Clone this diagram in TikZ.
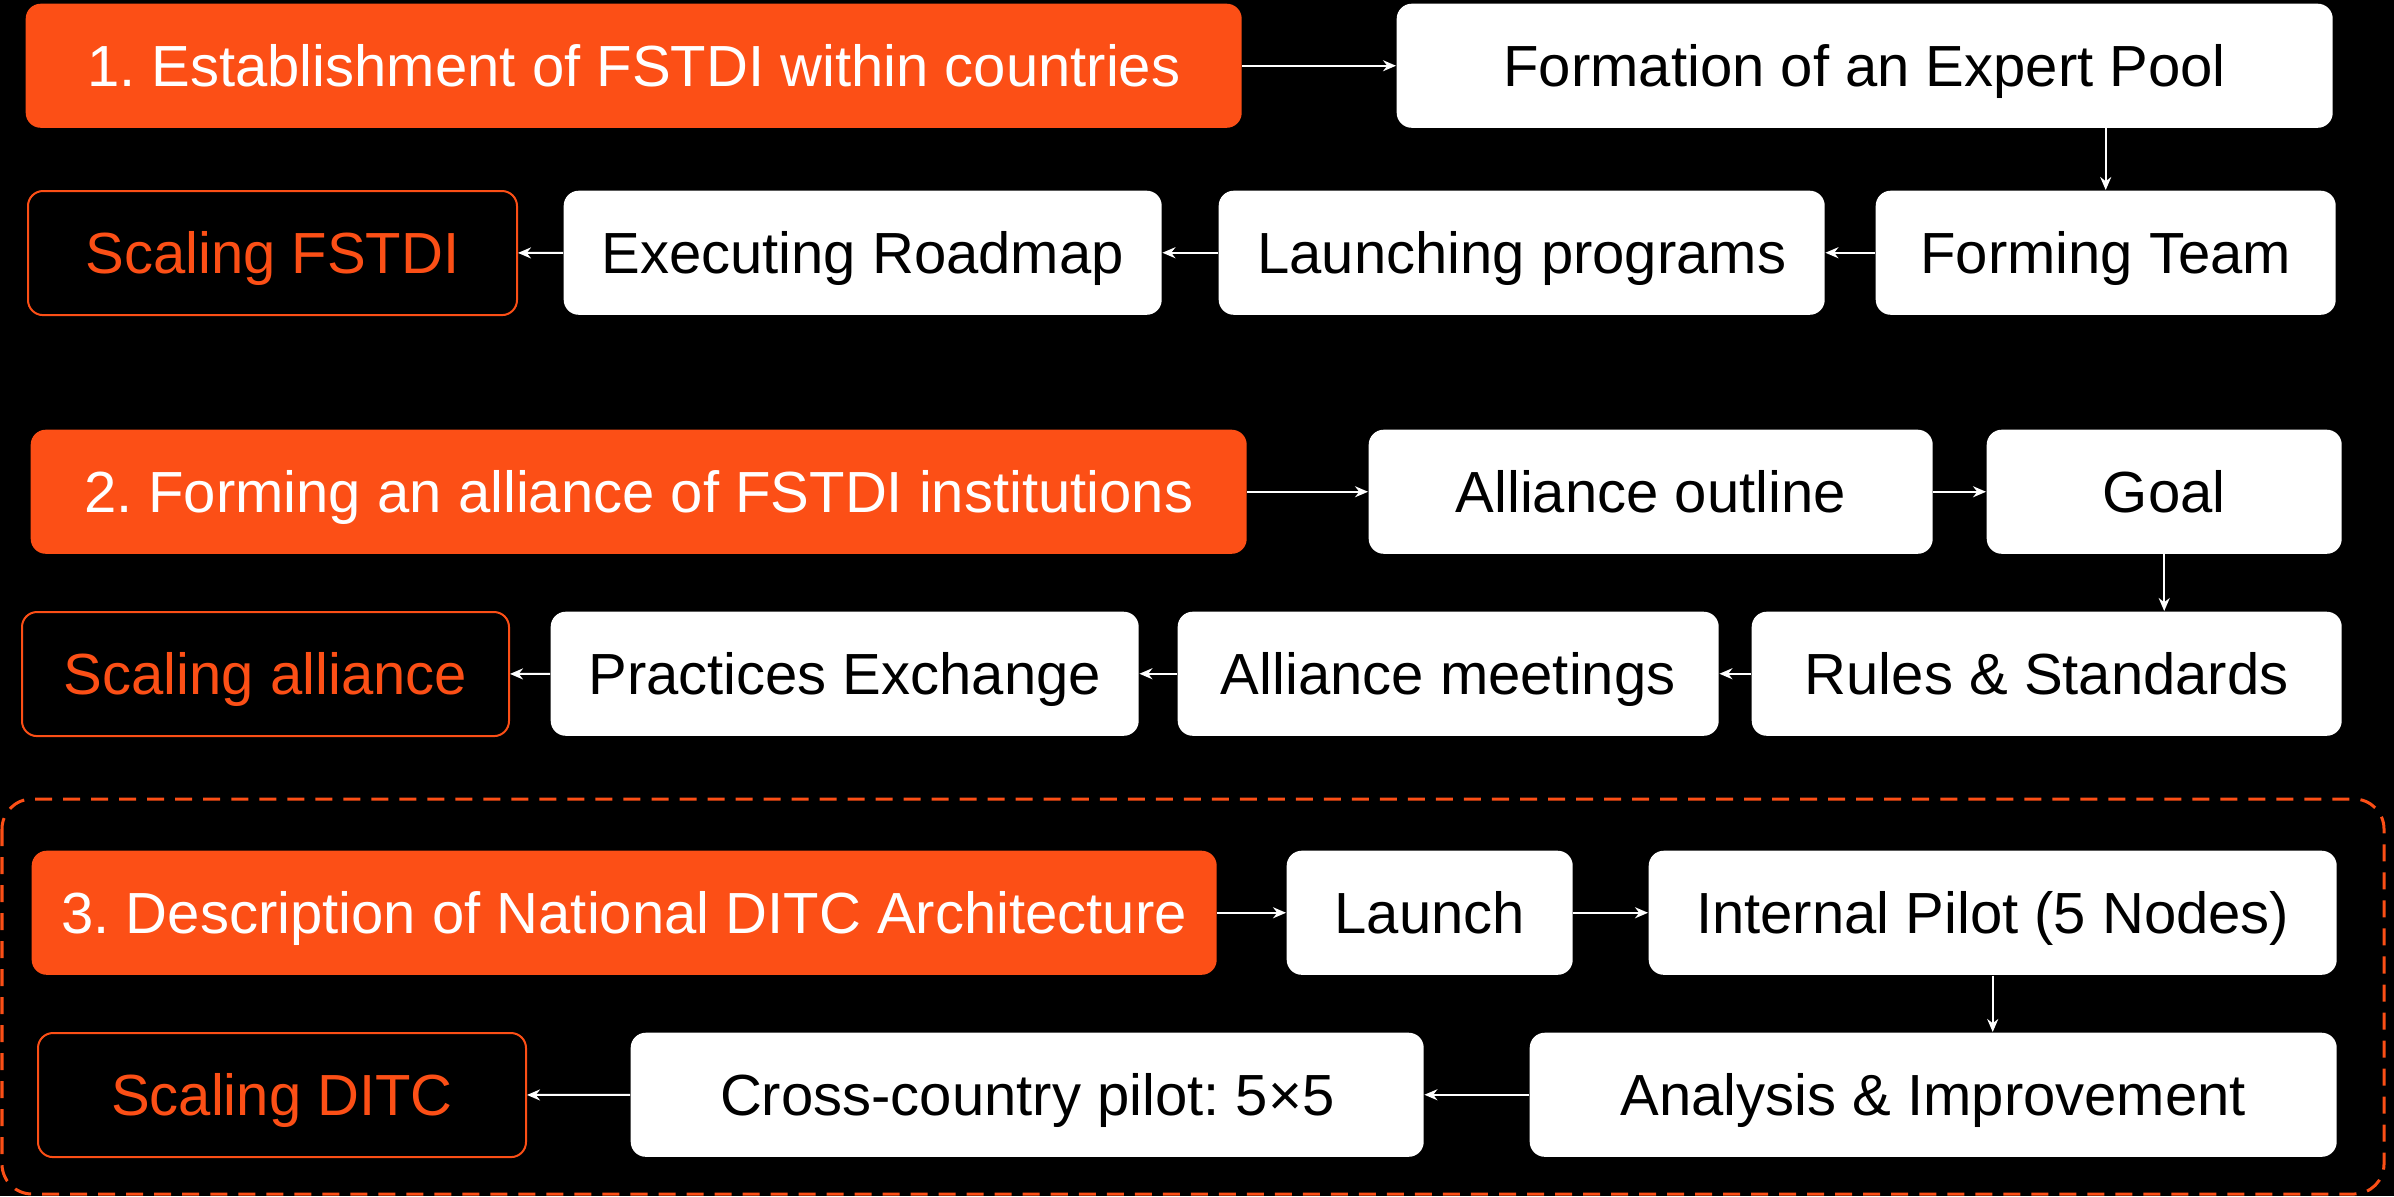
\documentclass[tikz,border=0pt]{standalone}
\usepackage{fontspec}
\setmainfont{Liberation Sans}
\usepackage{xcolor}
\usetikzlibrary{arrows.meta}
\definecolor{fstdiOrange}{RGB}{252,79,22}
\newcommand{\boxTextSize}{\fontsize{16.5}{19.8}\selectfont\frenchspacing}
\newcommand{\pictureWidth}{2394}
\newcommand{\pictureHeight}{1196}
\newcommand{\headBoxes}{head1/25/3/1216/{1. Establishment of FSTDI within countries}, head2/30/429/1216/{2. Forming an alliance of FSTDI institutions}, head3/31/850/1185/{3. Description of National DITC Architecture}} % name/left/top/width/text
\newcommand{\stepBoxes}{pool/1396/3/936/{Formation of an Expert Pool}, roadmap/563/190/598/{Executing Roadmap}, programs/1218/190/606/{Launching programs}, team/1875/190/460/{Forming Team}, outline/1368/429/564/{Alliance outline}, goal/1986/429/355/{Goal}, exchange/550/611/588/{Practices Exchange}, meetings/1177/611/541/{Alliance meetings}, rules/1751/611/590/{Rules \& Standards}, launch/1286/850/286/{Launch}, pilot/1648/850/688/{Internal Pilot (5 Nodes)}, cross/630/1032/793/{Cross-country pilot: 5×5}, analysis/1529/1032/807/{Analysis \& Improvement}}
\newcommand{\scaleBoxes}{scale1/27/190/489/{Scaling FSTDI}, scale2/21/611/487/{Scaling alliance}, scale3/37/1032/488/{Scaling DITC}}

\begin{document}
\begin{tikzpicture}[x=0.01cm, y=-0.01cm,
	roundbox/.style={rounded corners=0.15cm, minimum height=1.24cm, anchor=north west, inner sep=0pt, text height=0.415cm, text depth=0cm, font=\boxTextSize},
	headbox/.style={roundbox, fill=fstdiOrange, text=white},
	stepbox/.style={roundbox, fill=white, text=black},
	scalebox/.style={roundbox, fill=black, draw=fstdiOrange, line width=0.02cm, text=fstdiOrange},
	flow/.style={draw=white, line width=0.02cm, -{Stealth[length=0.13cm, width=0.11cm]}}]
	
	\useasboundingbox (0,0) rectangle (\pictureWidth,\pictureHeight);
	\fill[black] (0,0) rectangle (\pictureWidth,\pictureHeight);
	
	% frame round part 3
	\draw[fstdiOrange, line width=0.03cm, dash pattern=on 0.17cm off 0.11cm, rounded corners=0.3cm] (2,799) rectangle (2384,1194);
	
	\foreach \name/\x/\y/\w/\txt in \headBoxes
	{
		\node[headbox, minimum width=\w*0.01cm] (\name) at (\x,\y) {\txt};
	}
	\foreach \name/\x/\y/\w/\txt in \stepBoxes
	{
		\node[stepbox, minimum width=\w*0.01cm] (\name) at (\x,\y) {\txt};
	}
	\foreach \name/\x/\y/\w/\txt in \scaleBoxes
	{
		\node[scalebox, minimum width=\w*0.01cm] (\name) at (\x,\y) {\txt};
	}
	
	\draw[flow] (head1) -- (pool);
	\draw[flow] (team.north |- pool.south) -- (team.north);
	\draw[flow] (team) -- (programs);
	\draw[flow] (programs) -- (roadmap);
	\draw[flow] (roadmap) -- (scale1);
	
	\draw[flow] (head2) -- (outline);
	\draw[flow] (outline) -- (goal);
	\draw[flow] (goal) -- (goal |- rules.north);
	\draw[flow] (rules) -- (meetings);
	\draw[flow] (meetings) -- (exchange);
	\draw[flow] (exchange) -- (scale2);
	
	\draw[flow] (head3) -- (launch);
	\draw[flow] (launch) -- (pilot);
	\draw[flow] (pilot) -- (pilot |- analysis.north);
	\draw[flow] (analysis) -- (cross);
	\draw[flow] (cross) -- (scale3);
\end{tikzpicture}
\end{document}
